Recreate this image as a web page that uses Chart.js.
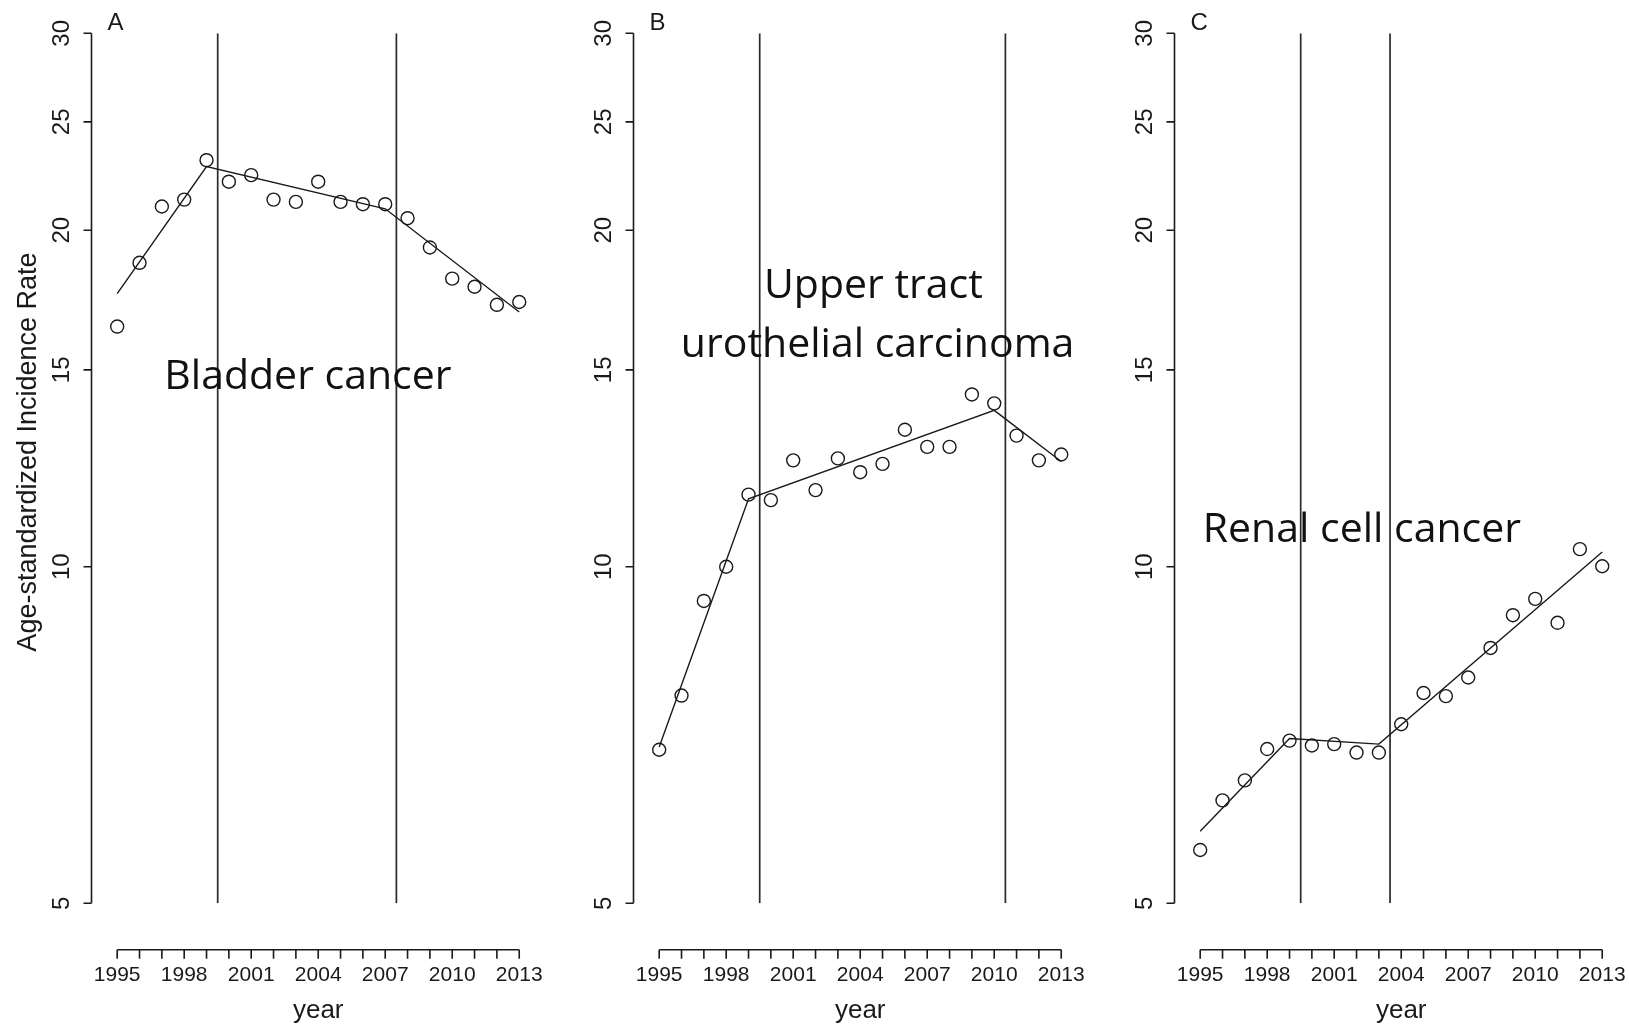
<!DOCTYPE html>
<html>
<head>
<meta charset="utf-8">
<script src="https://cdn.jsdelivr.net/npm/chart.js@4.4.1/dist/chart.umd.min.js"></script>
<style>
  html, body { margin: 0; padding: 0; background: #fff; }
  #wrap { position: relative; width: 1629px; height: 1024px; overflow: hidden; }
  .panel { position: absolute; top: 0; width: 543px; height: 1024px; }
</style>
</head>
<body>
<div id="wrap">
  <div class="panel" style="left:0px"><canvas id="chartA" width="543" height="1024"></canvas></div>
  <div class="panel" style="left:542px"><canvas id="chartB" width="543" height="1024"></canvas></div>
  <div class="panel" style="left:1083px"><canvas id="chartC" width="543" height="1024"></canvas></div>
</div>
<script>
var years = [1995, 1996, 1997, 1998, 1999, 2000, 2001, 2002, 2003, 2004,
             2005, 2006, 2007, 2008, 2009, 2010, 2011, 2012, 2013];
var rateA = [16.4, 18.7, 21.0, 21.3, 23.1, 22.1, 22.4, 21.3, 21.2, 22.1,
             21.2, 21.1, 21.1, 20.5, 19.3, 18.1, 17.8, 17.15, 17.25];
var rateB = [6.86, 7.67, 9.32, 10.0, 11.6, 11.47, 12.45, 11.71, 12.5, 12.15,
             12.36, 13.26, 12.8, 12.8, 14.26, 14.0, 13.1, 12.45, 12.6];
var rateC = [5.58, 6.18, 6.44, 6.87, 6.99, 6.92, 6.94, 6.82, 6.82, 7.23,
             7.71, 7.66, 7.96, 8.46, 9.05, 9.36, 8.91, 10.37, 10.01];

// joinpoint fits
var fitYearsA = [1995, 1999, 2007, 2013];
var fitA = [17.55, 22.8, 20.9, 16.9];
var fitYearsB = [1995, 1999, 2010, 2013];
var fitB = [6.9, 11.5, 13.8, 12.42];
var fitYearsC = [1995, 1999, 2003, 2013];
var fitC = [5.8, 7.02, 6.94, 10.31];

// vertical reference lines
var joinA = [1999.5, 2007.5];
var joinB = [1999.5, 2010.5];
var joinC = [1999.5, 2003.5];

var yTicks = [5, 10, 15, 20, 25, 30];
var xLabels = [1995, 1998, 2001, 2004, 2007, 2010, 2013];

var ink = '#1a1a1a';
var axisFont = '"Liberation Sans", Arial, sans-serif';

function pairs(xs, ys) {
  return xs.map(function (x, i) { return { x: x, y: ys[i] }; });
}

// R-style detached axes, titles and text labels
var rAxes = {
  id: 'rAxes',
  afterDraw: function (chart, args, opts) {
    var ctx = chart.ctx, xs = chart.scales.x, ys = chart.scales.y;
    var area = chart.chartArea, left = area.left;
    var yLo = ys.getPixelForValue(yTicks[0]);
    var yHi = ys.getPixelForValue(yTicks[yTicks.length - 1]);
    ctx.save();
    ctx.strokeStyle = ink;
    ctx.fillStyle = ink;
    ctx.lineWidth = 1.6;

    // y axis
    ctx.beginPath();
    ctx.moveTo(left, yLo);
    ctx.lineTo(left, yHi);
    yTicks.forEach(function (v) {
      var p = ys.getPixelForValue(v);
      ctx.moveTo(left, p);
      ctx.lineTo(left - 8, p);
    });
    ctx.stroke();
    ctx.font = '24px ' + axisFont;
    ctx.textAlign = 'center';
    ctx.textBaseline = 'middle';
    yTicks.forEach(function (v) {
      var p = ys.getPixelForValue(v);
      ctx.save();
      ctx.translate(left - 29, p);
      ctx.rotate(-Math.PI / 2);
      ctx.fillText(String(v), 0, 0);
      ctx.restore();
    });

    // x axis, below the plot
    var ay = area.bottom + 46.5;
    var x0 = xs.getPixelForValue(years[0]);
    var x1 = xs.getPixelForValue(years[years.length - 1]);
    ctx.beginPath();
    ctx.moveTo(x0, ay);
    ctx.lineTo(x1, ay);
    years.forEach(function (yr) {
      var p = xs.getPixelForValue(yr);
      ctx.moveTo(p, ay);
      ctx.lineTo(p, ay + 9);
    });
    ctx.stroke();
    ctx.font = '21px ' + axisFont;
    xLabels.forEach(function (yr) {
      ctx.fillText(String(yr), xs.getPixelForValue(yr), ay + 25);
    });
    ctx.font = '26px ' + axisFont;
    ctx.fillText('year', (x0 + x1) / 2, ay + 61);

    // panel letter
    ctx.font = '24px ' + axisFont;
    ctx.textAlign = 'left';
    ctx.textBaseline = 'alphabetic';
    ctx.fillText(opts.letter, left + 16, 30);

    // y title
    if (opts.yTitle) {
      ctx.save();
      ctx.translate(29, 452);
      ctx.rotate(-Math.PI / 2);
      ctx.font = '27px ' + axisFont;
      ctx.textAlign = 'center';
      ctx.textBaseline = 'middle';
      ctx.fillText(opts.yTitle, 0, 0);
      ctx.restore();
    }

    // cancer type labels
    ctx.font = '41px "Open Sans", "Noto Sans", sans-serif';
    ctx.fillStyle = '#111';
    ctx.textAlign = 'center';
    ctx.textBaseline = 'alphabetic';
    opts.labels.forEach(function (lb) {
      ctx.fillText(lb.text, xs.getPixelForValue(lb.x), ys.getPixelForValue(lb.y));
    });
    ctx.restore();
  }
};

function makePanel(id, rates, fitYears, fit, joins, letter, labels, yTitle) {
  var datasets = [
    {
      data: pairs(years, rates),
      showLine: false,
      pointStyle: 'circle',
      pointRadius: 6.5,
      pointBorderWidth: 1.4,
      pointBorderColor: ink,
      pointBackgroundColor: 'rgba(0,0,0,0)'
    },
    {
      data: pairs(fitYears, fit),
      showLine: true,
      borderColor: ink,
      borderWidth: 1.4,
      pointRadius: 0,
      tension: 0
    }
  ];
  joins.forEach(function (j) {
    datasets.push({
      data: [{ x: j, y: yTicks[0] }, { x: j, y: yTicks[yTicks.length - 1] }],
      showLine: true,
      borderColor: '#2a2a2a',
      borderWidth: 1.7,
      pointRadius: 0
    });
  });

  return new Chart(document.getElementById(id), {
    type: 'scatter',
    data: { datasets: datasets },
    options: {
      responsive: false,
      animation: false,
      devicePixelRatio: 1,
      layout: { padding: { left: 91.5, top: 33.3, right: 12.6, bottom: 120.7 } },
      scales: {
        x: { type: 'linear', min: 1993.85, max: 2013.5, display: false },
        y: { type: 'logarithmic', min: 5, max: 30, display: false }
      },
      plugins: {
        legend: { display: false },
        tooltip: { enabled: false },
        rAxes: { letter: letter, labels: labels, yTitle: yTitle }
      }
    },
    plugins: [rAxes]
  });
}

makePanel('chartA', rateA, fitYearsA, fitA, joinA, 'A',
  [{ text: 'Bladder cancer', x: 2003.54, y: 14.42 }],
  'Age-standardized Incidence Rate');
makePanel('chartB', rateB, fitYearsB, fitB, joinB, 'B',
  [{ text: 'Upper tract', x: 2004.59, y: 17.38 },
   { text: 'urothelial carcinoma', x: 2004.78, y: 15.41 }], null);
makePanel('chartC', rateC, fitYearsC, fitC, joinC, 'C',
  [{ text: 'Renal cell cancer', x: 2002.24, y: 10.53 }], null);
</script>
</body>
</html>
